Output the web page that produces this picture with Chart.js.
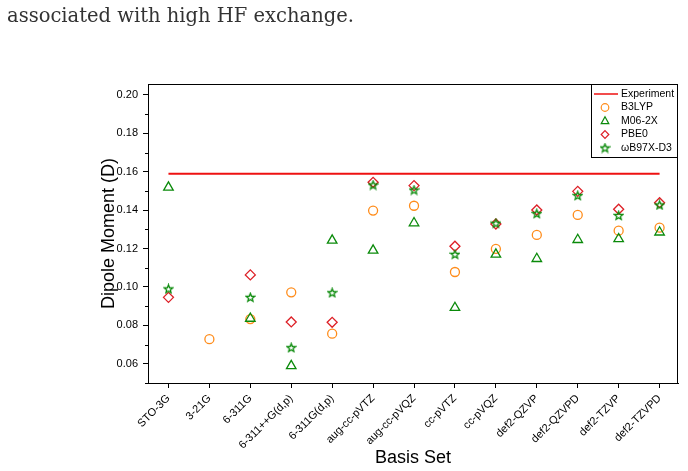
<!DOCTYPE html>
<html>
<head>
<meta charset="utf-8">
<script src="https://cdn.jsdelivr.net/npm/chart.js"></script>
<style>
  html, body { margin: 0; padding: 0; background: #fff; }
  #wrap { position: relative; width: 688px; height: 471px; overflow: hidden; }
  #caption { position: absolute; left: 7px; top: 4px; font-family: "DejaVu Serif", serif; font-size: 19.5px; color: #333; white-space: nowrap; }
  #chart { position: absolute; left: 0; top: 0; }
</style>
</head>
<body>
<div id="wrap">
  <canvas id="chart" width="688" height="471"></canvas>
  <div id="caption">associated with high HF exchange.</div>
</div>
<script>
// Datos
const basisSets = ['STO-3G', '3-21G', '6-311G', '6-311++G(d,p)', '6-311G(d,p)', 'aug-cc-pVTZ',
  'aug-cc-pVQZ', 'cc-pVTZ', 'cc-pVQZ', 'def2-QZVP', 'def2-QZVPD', 'def2-TZVP', 'def2-TZVPD'];

const experiment = 0.159;
const b3lyp  = [null, 0.0728, 0.0833, 0.0972, 0.0757, 0.1398, 0.1423, 0.1078, 0.1198, 0.1271, 0.1375, 0.1293, 0.1309];
const m062x  = [0.1519, null, 0.0836, 0.0589, 0.1243, 0.1191, 0.1333, 0.0892, 0.1170, 0.1147, 0.1246, 0.1250, 0.1285];
const pbe0   = [0.0946, null, 0.1063, 0.0818, 0.0816, 0.1545, 0.1528, 0.1212, 0.1328, 0.1401, 0.1498, 0.1405, 0.1439];
const wb97xd = [0.0990, null, 0.0946, 0.0684, 0.0970, 0.1531, 0.1505, 0.1170, 0.1332, 0.1382, 0.1476, 0.1372, 0.1427];

const yTicks = [0.06, 0.08, 0.10, 0.12, 0.14, 0.16, 0.18, 0.20];
const yMinorTicks = [0.05, 0.07, 0.09, 0.11, 0.13, 0.15, 0.17, 0.19];

// Estrella de 5 puntas como imagen para pointStyle
function crearEstrella(color) {
  const c = document.createElement('canvas');
  c.width = 11; c.height = 11;
  const g = c.getContext('2d');
  g.strokeStyle = color;
  g.lineWidth = 1.3;
  g.beginPath();
  for (let k = 0; k < 10; k++) {
    const r = k % 2 === 0 ? 4.4 : 1.9;
    const a = -Math.PI / 2 + k * Math.PI / 5;
    const px = 5.5 + r * Math.cos(a), py = 5.8 + r * Math.sin(a);
    if (k === 0) g.moveTo(px, py); else g.lineTo(px, py);
  }
  g.closePath();
  g.stroke();
  return c;
}
const estrella = crearEstrella('#0a8a0a');

function puntos(serie) {
  const out = [];
  serie.forEach((v, i) => { if (v !== null) out.push({ x: i, y: v }); });
  return out;
}

const series = [
  { label: 'B3LYP', data: puntos(b3lyp), pointStyle: 'circle', pointRadius: 4.5, pointBorderColor: '#ff8c1a', order: 4 },
  { label: 'M06-2X', data: puntos(m062x), pointStyle: 'triangle', pointRadius: 5.5, pointBorderColor: '#0a8a0a', order: 3 },
  { label: 'PBE0', data: puntos(pbe0), pointStyle: 'rectRot', pointRadius: 5, pointBorderColor: '#dd1f26', order: 2 },
  { label: 'ωB97X-D3', data: puntos(wb97xd), pointStyle: estrella, pointRadius: 5, pointBorderColor: '#0a8a0a', order: 1 }
];

// Marco, ticks menores y leyenda
const marcoPlugin = {
  id: 'marco',
  afterDraw(chart) {
    const { ctx, chartArea: a, scales } = chart;
    ctx.save();
    ctx.strokeStyle = '#000';
    ctx.lineWidth = 1;
    ctx.strokeRect(a.left + 0.5, a.top + 0.5, a.right - a.left - 1, a.bottom - a.top);
    // ticks menores eje y
    yMinorTicks.forEach(v => {
      const py = Math.round(scales.y.getPixelForValue(v)) + 0.5;
      ctx.beginPath();
      ctx.moveTo(a.left, py);
      ctx.lineTo(a.left - 3, py);
      ctx.stroke();
    });

    // leyenda
    const bw = 87, bh = 74;
    const bx = a.right - bw, by = a.top;
    ctx.fillStyle = '#fff';
    ctx.fillRect(bx, by, bw, bh);
    ctx.strokeRect(bx + 0.5, by + 0.5, bw - 1, bh - 1);
    ctx.font = '10.5px "Liberation Sans", Arial, sans-serif';
    ctx.textBaseline = 'middle';
    const sx = bx + 14, tx = bx + 30;
    let ry = by + 10;
    ctx.strokeStyle = '#ee1111';
    ctx.lineWidth = 1.5;
    ctx.beginPath(); ctx.moveTo(bx + 3, ry); ctx.lineTo(bx + 27, ry); ctx.stroke();
    ctx.fillStyle = '#000';
    ctx.fillText('Experiment', tx, ry);
    series.forEach(s => {
      ry += 13.5;
      ctx.strokeStyle = s.pointBorderColor;
      ctx.lineWidth = 1.2;
      const r = 3.8;
      ctx.beginPath();
      if (s.pointStyle === 'circle') {
        ctx.arc(sx, ry, r, 0, Math.PI * 2);
        ctx.stroke();
      } else if (s.pointStyle === 'triangle') {
        ctx.moveTo(sx, ry - r - 0.5);
        ctx.lineTo(sx + r, ry + r * 0.7);
        ctx.lineTo(sx - r, ry + r * 0.7);
        ctx.closePath();
        ctx.stroke();
      } else if (s.pointStyle === 'rectRot') {
        ctx.moveTo(sx, ry - r);
        ctx.lineTo(sx + r, ry);
        ctx.lineTo(sx, ry + r);
        ctx.lineTo(sx - r, ry);
        ctx.closePath();
        ctx.stroke();
      } else {
        ctx.drawImage(s.pointStyle, sx - 5.5, ry - 5.5);
      }
      ctx.fillStyle = '#000';
      ctx.fillText(s.label, tx, ry);
    });
    ctx.restore();
  }
};

const datasets = series.map(s => ({
  type: 'scatter',
  label: s.label,
  data: s.data,
  pointStyle: s.pointStyle,
  pointRadius: s.pointRadius,
  pointBorderColor: s.pointBorderColor,
  pointBackgroundColor: 'rgba(0,0,0,0)',
  pointBorderWidth: 1.3,
  order: s.order
}));

datasets.push({
  type: 'line',
  label: 'Experiment',
  data: [{ x: 0, y: experiment }, { x: basisSets.length - 1, y: experiment }],
  borderColor: '#ee1111',
  borderWidth: 2,
  pointRadius: 0,
  order: 5
});

const fuente = '"Liberation Sans", Arial, sans-serif';

new Chart(document.getElementById('chart'), {
  type: 'scatter',
  data: { datasets },
  plugins: [marcoPlugin],
  options: {
    responsive: false,
    animation: false,
    layout: { padding: { top: 84, right: 10, left: 90, bottom: 0 } },
    plugins: { legend: { display: false }, tooltip: { enabled: false } },
    scales: {
      x: {
        type: 'linear',
        min: -0.5,
        max: 12.45,
        afterBuildTicks: s => { s.ticks = basisSets.map((b, i) => ({ value: i })); },
        afterFit: s => { s.height = 88; },
        grid: { drawOnChartArea: false, tickLength: 5, color: '#000' },
        border: { display: true, color: '#000' },
        ticks: {
          color: '#000',
          font: { family: fuente, size: 11 },
          maxRotation: 45, minRotation: 45,
          autoSkip: false,
          padding: 4,
          callback: v => basisSets[v]
        },
        title: { display: true, text: 'Basis Set', color: '#000', font: { family: fuente, size: 18 }, padding: { top: 0, bottom: 2 } }
      },
      y: {
        min: 0.05,
        max: 0.2057,
        afterBuildTicks: s => { s.ticks = yTicks.map(v => ({ value: v })); },
        afterFit: s => { s.width = 58; },
        grid: { drawOnChartArea: false, tickLength: 5, color: '#000' },
        border: { display: true, color: '#000' },
        ticks: {
          color: '#000',
          font: { family: fuente, size: 11 },
          padding: 5,
          callback: v => v.toFixed(2)
        },
        title: { display: true, text: 'Dipole Moment (D)', color: '#000', font: { family: fuente, size: 18 }, padding: { top: 8, bottom: 0 } }
      }
    }
  }
});
</script>
</body>
</html>
